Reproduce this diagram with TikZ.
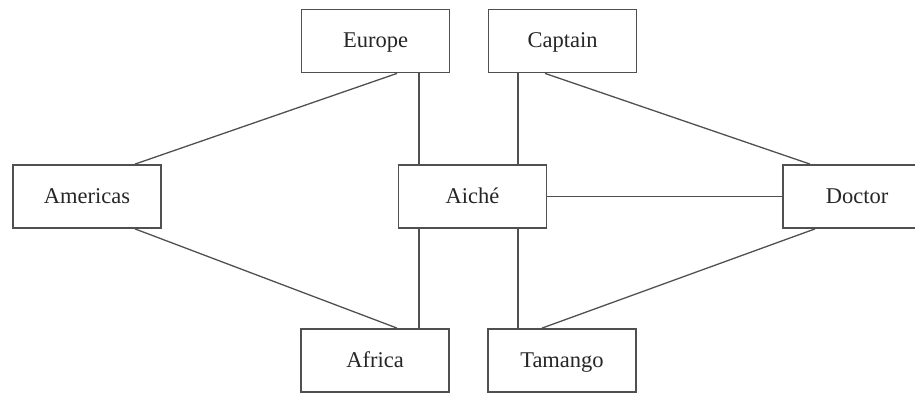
\documentclass[tikz,border=0pt]{standalone}
\usepackage{fontspec}
\setmainfont{Liberation Serif}
\usetikzlibrary{calc}
\definecolor{boxgray}{HTML}{505050}
\definecolor{txt}{HTML}{262626}
\tikzset{
  ent/.style={draw=boxgray, line width=1.8pt, fill=white, minimum width=148pt, minimum height=63pt,
    inner sep=0pt, text=txt, text height=17pt, text depth=3pt, font=\fontsize{22.5}{26}\selectfont},
  link/.style={draw=boxgray, line width=1.3pt}
}
\begin{document}
\begin{tikzpicture}[x=1pt,y=1pt]
\useasboundingbox (0,0) rectangle (915,394);
\clip (0,0) rectangle (915,394);
\node[ent] (Europe)   at (375.5,353) {Europe};
\node[ent] (Captain)  at (562.5,353) {Captain};
\node[ent] (Americas) at (87,197.5) {Americas};
\node[ent] (Aiche)    at (472.5,197.5) {Aiché};
\node[ent] (Doctor)   at (857,197.5) {Doctor};
\node[ent] (Africa)   at (375,33.5) {Africa};
\node[ent] (Tamango)  at (562,33.5) {Tamango};
\draw[link] ([xshift=48pt]Americas.north) -- ([xshift=21.5pt]Europe.south);
\draw[link] ([xshift=43.5pt]Europe.south) -- ([xshift=-53.5pt]Aiche.north);
\draw[link] ([xshift=-44.5pt]Captain.south) -- ([xshift=45.5pt]Aiche.north);
\draw[link] ([xshift=-17.5pt]Captain.south) -- ([xshift=-47pt]Doctor.north);
\draw[link] (Aiche.east) -- (Doctor.west);
\draw[link] ([xshift=48pt]Americas.south) -- ([xshift=22pt]Africa.north);
\draw[link] ([xshift=-53.5pt]Aiche.south) -- ([xshift=44pt]Africa.north);
\draw[link] ([xshift=45.5pt]Aiche.south) -- ([xshift=-44pt]Tamango.north);
\draw[link] ([xshift=-42pt]Doctor.south) -- ([xshift=-20pt]Tamango.north);
\end{tikzpicture}
\end{document}
